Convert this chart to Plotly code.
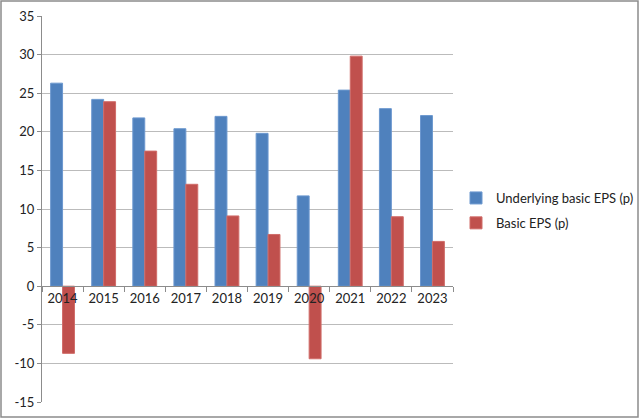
import plotly.graph_objects as go

years = ["2014", "2015", "2016", "2017", "2018", "2019", "2020", "2021", "2022", "2023"]
underlying_eps = [26.3, 24.2, 21.8, 20.4, 22.0, 19.8, 11.7, 25.4, 23.0, 22.1]
basic_eps = [-8.7, 23.9, 17.5, 13.2, 9.1, 6.7, -9.4, 29.8, 9.0, 5.8]
series_names = ["Underlying basic EPS (p)", "Basic EPS (p)"]
y_ticks = [35, 30, 25, 20, 15, 10, 5, 0, -5, -10, -15]
y_tick_labels = ["35", "30", "25", "20", "15", "10", "5", "0", "-5", "-10", "-15"]

W, H = 640, 419
L, R, T, B = 42, 0, 16, 17
pw, ph = W - L - R, H - T - B
plot_right = 453

fig = go.Figure()
fig.add_trace(go.Bar(x=years, y=underlying_eps, name=series_names[0], legendgroup="a",
                     marker=dict(color="#4F81BD", line=dict(color="#6C98CF", width=1))))
fig.add_trace(go.Bar(x=years, y=basic_eps, name=series_names[1], legendgroup="b",
                     marker=dict(color="#C0504D", line=dict(color="#D06C69", width=1))))

font = "Lato, 'Open Sans', sans-serif"
fig.update_layout(
    width=W, height=H,
    margin=dict(l=L, r=R, t=T, b=B, pad=0),
    paper_bgcolor="white", plot_bgcolor="white",
    barmode="group", bargap=0.42, bargroupgap=0,
    font=dict(family=font, size=13, color="#222"),
    showlegend=True,
    legend=dict(x=(456 - L) / pw, y=1 - (183 - T) / ph, xanchor="left", yanchor="top",
                font=dict(size=13, color="#222"), itemwidth=30, traceorder="grouped",
                tracegroupgap=5, bgcolor="rgba(0,0,0,0)"),
    yaxis=dict(range=[-15, 35], tickvals=y_ticks, ticktext=y_tick_labels,
               showgrid=True, gridcolor="#BBBBBB",
               gridwidth=1, zeroline=False, showline=True, linecolor="#8C8C8C",
               ticks="outside", ticklen=4, tickcolor="#8C8C8C", ticklabelstandoff=0),
    xaxis=dict(domain=[0, (plot_right - L) / pw], anchor="free", position=15 / 50,
               showline=True, linecolor="#8C8C8C", tickangle=0,
               ticks="outside", tickson="boundaries", ticklen=5, tickcolor="#8C8C8C",
               showgrid=False, zeroline=False, tickfont=dict(size=13, color="#222")),
    shapes=[dict(type="rect", xref="paper", yref="paper",
                 x0=(1 - L) / pw, x1=(638 - L) / pw,
                 y0=-(417 - (H - B)) / ph, y1=1 + (T - 1) / ph,
                 line=dict(color="#8C8C8C", width=1.5), fillcolor="rgba(0,0,0,0)", layer="below")],
)
fig.write_html("out.html")
